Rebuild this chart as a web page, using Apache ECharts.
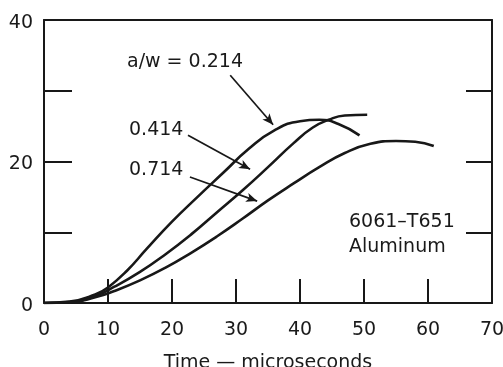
<!DOCTYPE html>
<html>
<head>
<meta charset="utf-8">
<script src="https://cdn.jsdelivr.net/npm/echarts@6/dist/echarts.min.js"></script>
<style>html,body{margin:0;padding:0;background:#fff;}#c{width:503px;height:367px;}</style>
</head>
<body>
<div id="c"></div>
<script>
// Data (time in microseconds, load)
const xTickValues = [0, 10, 20, 30, 40, 50, 60, 70];
const yTickLabels = ['0', '20', '40'];
const curve214 = [[0,0],[4,0.2],[8,1.2],[10,2.2],[13,4.6],[16,7.6],[20,11.5],[24,15.0],[28,18.4],[32,21.8],[36,24.4],[40,25.7],[43,25.9],[46,25.3],[49.3,23.7]];
const curve414 = [[0,0],[4,0.15],[8,1.0],[11,2.3],[15,4.4],[19,6.9],[23,9.7],[27,12.8],[31,15.9],[35,19.2],[39,22.6],[42,24.8],[44.5,25.9],[47,26.5],[50.5,26.6]];
const curve714 = [[0,0],[4,0.1],[8,0.8],[11,1.7],[15,3.2],[19,5.0],[23,7.1],[27,9.4],[31,11.9],[35,14.5],[39,16.9],[43,19.2],[47,21.2],[51,22.5],[55,22.9],[58,22.8],[60.9,22.2]];
const arrow214 = [[29.1,32.2],[35.8,25.2]];
const arrow414 = [[22.5,23.7],[32.2,18.9]];
const arrow714 = [[22.8,17.8],[33.3,14.4]];

const ink = '#181818';
const font = 'DejaVu Sans';
const txt = '#1a1a1a';
const chart = echarts.init(document.getElementById('c'), null, {renderer: 'canvas'});

function curveSeries(data, arrow) {
  return {
    type: 'line', data: data, smooth: 0.5, showSymbol: false, silent: true,
    lineStyle: {color: ink, width: 2.6}, xAxisIndex: 0, yAxisIndex: 0,
    markLine: {
      silent: true, symbol: ['none', 'arrow'], symbolSize: [7, 11],
      label: {show: false},
      lineStyle: {color: ink, width: 1.7, type: 'solid'},
      data: [[{coord: arrow[0]}, {coord: arrow[1]}]]
    }
  };
}

chart.setOption({
  animation: false,
  backgroundColor: '#fff',
  grid: {left: 44, right: 11, top: 20, bottom: 64, containLabel: false, outerBoundsMode: 'none'},
  xAxis: [{
    type: 'value', min: 0, max: 70, interval: 10, position: 'bottom',
    name: 'Time \u2014 microseconds', nameLocation: 'middle', nameGap: 51,
    nameTextStyle: {fontFamily: font, fontSize: 19, color: txt},
    axisLine: {show: true, lineStyle: {color: ink, width: 2}},
    axisTick: {show: true, inside: true, length: 24, lineStyle: {color: ink, width: 2}},
    axisLabel: {fontFamily: font, fontSize: 19, color: txt, margin: 18,
      formatter: v => xTickValues.indexOf(v) >= 0 ? String(v) : ''},
    splitLine: {show: false}
  }, {
    type: 'value', min: 0, max: 70, interval: 10, position: 'top',
    axisLine: {show: true, onZero: false, lineStyle: {color: ink, width: 2}},
    axisTick: {show: false}, axisLabel: {show: false}, splitLine: {show: false}
  }],
  yAxis: [{
    type: 'value', min: 0, max: 40, interval: 10, position: 'left',
    axisLine: {show: true, lineStyle: {color: ink, width: 2}},
    axisTick: {show: true, inside: true, length: 28, lineStyle: {color: ink, width: 2}},
    axisLabel: {fontFamily: font, fontSize: 19, color: txt, margin: 11,
      verticalAlign: 'top', lineHeight: 6,
      formatter: v => yTickLabels.indexOf(String(v)) >= 0 ? String(v) : ''},
    splitLine: {show: false}
  }, {
    type: 'value', min: 0, max: 40, interval: 10, position: 'right',
    axisLine: {show: true, onZero: false, lineStyle: {color: ink, width: 2}},
    axisTick: {show: true, inside: true, length: 26, lineStyle: {color: ink, width: 2}},
    axisLabel: {show: false}, splitLine: {show: false}
  }],
  series: [
    curveSeries(curve214, arrow214),
    curveSeries(curve414, arrow414),
    curveSeries(curve714, arrow714)
  ],
  graphic: [
    {type: 'text', left: 127, top: 53, style: {text: 'a/w = 0.214', font: '19px "DejaVu Sans"', fill: txt}},
    {type: 'text', left: 129, top: 121, style: {text: '0.414', font: '19px "DejaVu Sans"', fill: txt}},
    {type: 'text', left: 129, top: 161, style: {text: '0.714', font: '19px "DejaVu Sans"', fill: txt}},
    {type: 'text', left: 349, top: 213, style: {text: '6061\u2013T651', font: '19px "DejaVu Sans"', fill: txt}},
    {type: 'text', left: 349, top: 238, style: {text: 'Aluminum', font: '19px "DejaVu Sans"', fill: txt}}
  ]
});
</script>
</body>
</html>
